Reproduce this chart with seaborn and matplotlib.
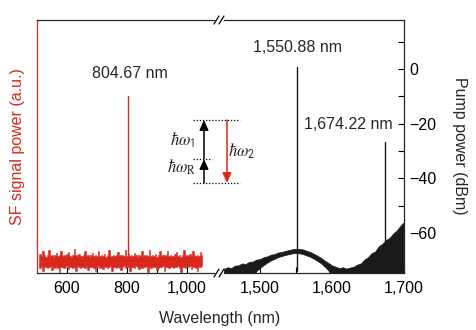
import numpy as np
import matplotlib
matplotlib.use("Agg")
import matplotlib.pyplot as plt
from matplotlib.lines import Line2D
import seaborn as sns

# ---------------- data ----------------
# SF signal (left panel, arbitrary units, 0..1)
red_wl = list(range(505, 1051, 5))
red_hi = [0.068, 0.074, 0.066, 0.085, 0.07, 0.064, 0.072, 0.09, 0.069, 0.073,
          0.065, 0.071, 0.078, 0.067, 0.07, 0.088, 0.066, 0.072, 0.069, 0.075,
          0.083, 0.068, 0.064, 0.071, 0.093, 0.07, 0.067, 0.074, 0.069, 0.066,
          0.072, 0.086, 0.068, 0.07, 0.065, 0.073, 0.079, 0.067, 0.071, 0.069,
          0.087, 0.066, 0.072, 0.068, 0.074, 0.065, 0.07, 0.091, 0.069, 0.067,
          0.073, 0.068, 0.071, 0.084, 0.066, 0.07, 0.072, 0.067, 0.089, 0.069,
          0.074, 0.066, 0.07, 0.068, 0.081, 0.072, 0.065, 0.071, 0.069, 0.086,
          0.067, 0.073, 0.07, 0.066, 0.092, 0.068, 0.072, 0.069, 0.075, 0.065,
          0.071, 0.085, 0.068, 0.07, 0.066, 0.073, 0.088, 0.067, 0.071, 0.069,
          0.066, 0.074, 0.083, 0.068, 0.07, 0.065, 0.072, 0.09, 0.067, 0.071,
          0.069, 0.076, 0.066, 0.087, 0.07, 0.068, 0.073, 0.067, 0.084, 0.07]
red_lo = [0.024, 0.02, 0.026, 0.008, 0.022, 0.025, 0.019, 0.023, 0.027, 0.012,
          0.024, 0.021, 0.026, 0.018, 0.005, 0.023, 0.025, 0.02, 0.022, 0.026,
          0.014, 0.023, 0.025, 0.021, 0.024, 0.009, 0.026, 0.022, 0.02, 0.025,
          0.023, 0.019, 0.026, 0.011, 0.024, 0.022, 0.025, 0.02, 0.007, 0.023,
          0.026, 0.021, 0.024, 0.016, 0.022, 0.025, 0.02, 0.023, 0.026, 0.006,
          0.022, 0.024, 0.019, 0.025, 0.021, 0.013, 0.024, 0.026, 0.02, 0.023,
          0.025, 0.008, 0.022, 0.024, 0.02, 0.026, 0.023, 0.017, 0.025, 0.021,
          0.024, 0.022, 0.026, 0.005, 0.023, 0.02, 0.025, 0.022, 0.024, 0.012,
          0.021, 0.025, 0.023, 0.026, 0.009, 0.022, 0.024, 0.02, 0.025, 0.023,
          0.018, 0.024, 0.022, 0.026, 0.021, 0.004, 0.023, 0.025, 0.02, 0.024,
          0.022, 0.026, 0.015, 0.023, 0.025, 0.021, 0.007, 0.024, 0.022, 0.026]
sf_peak_wl = 804.67
sf_peak_val = 0.70

# Pump spectrum (right panel, dBm)
pump_wl = list(range(1450, 1701, 5))
pump_hi = [-73.2, -72.6, -72.9, -72.0, -71.9, -71.2, -71.4, -70.6, -70.5, -69.8,
           -69.6, -68.9, -68.6, -68.0, -67.8, -67.2, -67.0, -66.6, -66.3, -66.0,
           -65.8, -65.9, -66.1, -66.6, -67.0, -67.7, -68.4, -69.2, -70.2, -71.0,
           -71.9, -72.4, -72.9, -72.6, -73.1, -72.7, -72.4, -71.6, -71.2, -69.8,
           -68.9, -67.4, -66.8, -64.9, -64.0, -62.6, -61.8, -60.2, -59.1, -57.4,
           -56.0]
pump_lo = [-76, -76, -76, -76, -76, -76, -76, -76, -76,
           -74.0, -72.8, -71.8, -70.9, -70.1, -69.5, -68.9, -68.5, -68.1, -67.8,
           -67.5, -67.4, -67.5, -67.8, -68.3, -68.8, -69.5, -70.3, -71.2, -72.4,
           -73.8,
           -76, -76, -76, -76, -76, -76, -76, -76, -76, -76, -76,
           -76, -76, -76, -76, -76, -76, -76, -76, -76, -76]
pump_peak_wl = [1550.88, 1674.22]
pump_peak_dbm = [0.7, -26.8]

left_ticks = [600, 800, 1000]
left_ticklabels = ["600", "800", "1,000"]
right_ticks = [1500, 1600, 1700]
right_ticklabels = ["1,500", "1,600", "1,700"]
y_ticks = [-60, -40, -20, 0]
y_ticklabels = ["\u221260", "\u221240", "\u221220", "0"]

RED = "#d8281d"
DARK = "#1a1a1a"

# ---------------- style ----------------
sns.set_theme(style="ticks")
plt.rcParams["font.family"] = ["Liberation Sans", "DejaVu Sans"]
plt.rcParams["mathtext.fontset"] = "stix"
FS = 11.5

W, H = 477, 330
fig = plt.figure(figsize=(W / 100, H / 100), dpi=100)
fig.patch.set_facecolor("white")

def fx(px):
    return px / W

def fy(py):
    return 1 - py / H

ax1 = fig.add_axes([fx(37), 57 / H, 177 / W, 253 / H])
ax2 = fig.add_axes([fx(224), 57 / H, 180 / W, 253 / H])

# ---- left panel ----
ax1.fill_between(red_wl, red_lo, red_hi, color=RED, lw=0.4, step="mid")
sns.lineplot(x=[sf_peak_wl, sf_peak_wl], y=[0.03, sf_peak_val], ax=ax1,
             color=RED, lw=1.0, estimator=None, sort=False)
ax1.set_xlim(500, 1090)
ax1.set_ylim(0, 1)
ax1.set_xticks(left_ticks)
ax1.set_xticklabels(left_ticklabels, fontsize=FS)
ax1.set_xticks([700, 900], minor=True)
ax1.set_yticks([])
ax1.tick_params(axis="x", which="both", direction="in", length=4, width=0.8,
                pad=6, colors="black")
ax1.spines["right"].set_visible(False)
ax1.spines["left"].set_color(RED)
for s in ["left", "top", "bottom"]:
    ax1.spines[s].set_linewidth(0.9)
ax1.set_xlabel("")
ax1.set_ylabel("")
ax1.text(808, 0.787, "804.67 nm", ha="center", va="center", fontsize=FS)

# ---- right panel ----
ax2.fill_between(pump_wl, pump_lo, pump_hi, color=DARK, lw=0.5)
for wl, pk in zip(pump_peak_wl, pump_peak_dbm):
    sns.lineplot(x=[wl, wl], y=[-74, pk], ax=ax2, color=DARK, lw=1.0,
                 estimator=None, sort=False)
ax2.set_xlim(1450, 1700)
ax2.set_ylim(-74.7, 18)
ax2.set_xticks(right_ticks)
ax2.set_xticklabels(right_ticklabels, fontsize=FS)
ax2.set_xticks([1550, 1650], minor=True)
ax2.yaxis.tick_right()
ax2.set_yticks(y_ticks)
ax2.set_yticklabels(y_ticklabels, fontsize=FS)
ax2.set_yticks([-70, -50, -30, -10, 10], minor=True)
ax2.tick_params(axis="both", which="both", direction="in", length=4,
                width=0.8, colors="black")
ax2.tick_params(axis="x", pad=6)
ax2.tick_params(axis="y", pad=4)
ax2.spines["left"].set_visible(False)
for s in ["right", "top", "bottom"]:
    ax2.spines[s].set_linewidth(0.9)
ax2.set_xlabel("")
ax2.set_ylabel("")
ax2.text(1552.7, 8.1, "1,550.88 nm", ha="center", va="center", fontsize=FS)
ax2.text(1622, -20.2, "1,674.22 nm", ha="center", va="center", fontsize=FS)

# ---- break marks ----
for ypx in (20, 273):
    for xc in (216.5, 221.5):
        fig.add_artist(Line2D([fx(xc - 2.5), fx(xc + 2.5)],
                              [fy(ypx + 4), fy(ypx - 4)],
                              transform=fig.transFigure, color="black", lw=0.9))

# ---- axis labels ----
fig.text(fx(220), fy(318), "Wavelength (nm)", ha="center", va="center",
         fontsize=FS)
fig.text(fx(18), fy(147), "SF signal power (a.u.)", ha="center", va="center",
         rotation=90, fontsize=FS, color=RED)
fig.text(fx(460), fy(146), "Pump power (dBm)", ha="center", va="center",
         rotation=270, fontsize=FS)

# ---- energy diagram ----
tf = fig.transFigure
def hline(x0, x1, y):
    fig.add_artist(Line2D([fx(x0), fx(x1)], [fy(y), fy(y)], transform=tf,
                          color="black", lw=0.9, ls=(0, (1, 1.5))))
hline(193, 240, 120)
hline(193, 212, 159)
hline(193, 240, 183)

def arrow(x, y0, y1, color):
    fig.add_artist(matplotlib.patches.FancyArrowPatch(
        (fx(x), fy(y0)), (fx(x), fy(y1)), transform=tf,
        arrowstyle="-|>,head_length=4,head_width=1.8", color=color, lw=1.1,
        shrinkA=0, shrinkB=0, mutation_scale=1.5))
arrow(204, 183, 159, "black")
arrow(204, 159, 120, "black")
arrow(227, 120, 183, RED)

fig.text(fx(183), fy(140), r"$\hbar\omega_{\mathsf{1}}$", ha="center",
         va="center", fontsize=12)
fig.text(fx(182), fy(167), r"$\hbar\omega_{\mathrm{R}}$", ha="center",
         va="center", fontsize=12)
fig.text(fx(242), fy(151), r"$\hbar\omega_{\mathsf{2}}$", ha="center",
         va="center", fontsize=12)

fig.savefig("out.png", dpi=100, facecolor="white")
